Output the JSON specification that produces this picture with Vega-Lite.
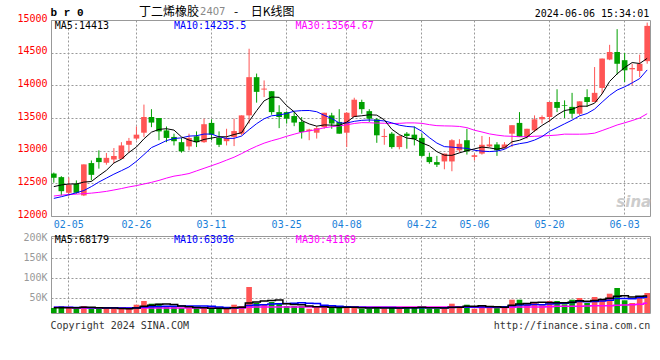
{
  "$schema": "https://vega.github.io/schema/vega-lite/v6.json",
  "background": "white",
  "padding": {"left": 16, "top": 5, "right": 6, "bottom": 4},
  "spacing": 20,
  "bounds": "flush",
  "config": {
    "view": {"stroke": "#999999", "strokeWidth": 1},
    "axis": {"labelFont": "DejaVu Sans Mono", "labelFontSize": 10, "ticks": false, "domain": false, "gridColor": "#999999", "gridDash": [2, 2], "gridWidth": 1, "labelOverlap": false, "labelFlush": false},
    "text": {"font": "DejaVu Sans Mono", "fontSize": 10, "baseline": "middle", "align": "left"}
  },
  "data": {"values": [
    {"d":"02-01","o":12650,"h":12665,"l":12510,"c":12585,"m5":12450,"m10":12270,"m30":12305,"v":24250,"v5":25000,"v10":26000,"v30":26000},
    {"d":"02-02","o":12595,"h":12610,"l":12315,"c":12380,"m5":12475,"m10":12295,"m30":12320,"v":29250,"v5":25000,"v10":26000,"v30":26000},
    {"d":"02-05","o":12355,"h":12590,"l":12305,"c":12480,"m5":12490,"m10":12325,"m30":12328,"v":24250,"v5":25000,"v10":26000,"v30":25500},
    {"d":"02-06","o":12495,"h":12545,"l":12340,"c":12355,"m5":12490,"m10":12355,"m30":12335,"v":24250,"v5":25000,"v10":25500,"v30":24300},
    {"d":"02-07","o":12315,"h":12790,"l":12305,"c":12790,"m5":12519,"m10":12390,"m30":12342,"v":29250,"v5":26250,"v10":25500,"v30":24300},
    {"d":"02-08","o":12810,"h":12850,"l":12545,"c":12630,"m5":12528,"m10":12450,"m30":12350,"v":24250,"v5":26250,"v10":25000,"v30":24300},
    {"d":"02-19","o":12890,"h":13005,"l":12725,"c":12825,"m5":12617,"m10":12520,"m30":12362,"v":22500,"v5":24900,"v10":25000,"v30":24300},
    {"d":"02-20","o":12815,"h":12965,"l":12785,"c":12890,"m5":12699,"m10":12580,"m30":12377,"v":22500,"v5":24550,"v10":24800,"v30":24300},
    {"d":"02-21","o":12865,"h":13040,"l":12810,"c":12920,"m5":12811,"m10":12640,"m30":12398,"v":22500,"v5":24200,"v10":24600,"v30":24300},
    {"d":"02-22","o":12875,"h":13130,"l":12875,"c":13080,"m5":12869,"m10":12694,"m30":12420,"v":22500,"v5":22850,"v10":24550,"v30":24300},
    {"d":"02-23","o":13090,"h":13195,"l":12970,"c":13150,"m5":12972,"m10":12750,"m30":12445,"v":22500,"v5":22500,"v10":24400,"v30":24300},
    {"d":"02-26","o":13185,"h":13370,"l":13160,"c":13245,"m5":13056,"m10":12837,"m30":12465,"v":32500,"v5":24500,"v10":24700,"v30":24300},
    {"d":"02-27","o":13275,"h":13705,"l":13210,"c":13515,"m5":13181,"m10":12940,"m30":12490,"v":41750,"v5":28350,"v10":26450,"v30":24300},
    {"d":"02-28","o":13515,"h":13635,"l":13360,"c":13430,"m5":13283,"m10":13047,"m30":12515,"v":35000,"v5":30850,"v10":27500,"v30":24300},
    {"d":"02-29","o":13500,"h":13500,"l":13160,"c":13295,"m5":13326,"m10":13098,"m30":12545,"v":35000,"v5":33350,"v10":28100,"v30":24300},
    {"d":"03-01","o":13310,"h":13370,"l":13130,"c":13195,"m5":13336,"m10":13154,"m30":12580,"v":26750,"v5":34200,"v10":28350,"v30":24300},
    {"d":"03-04","o":13210,"h":13260,"l":13080,"c":13145,"m5":13315,"m10":13186,"m30":12610,"v":26750,"v5":33050,"v10":28800,"v30":24300},
    {"d":"03-05","o":13130,"h":13195,"l":12970,"c":12990,"m5":13210,"m10":13196,"m30":12628,"v":24250,"v5":29550,"v10":28950,"v30":24300},
    {"d":"03-06","o":13065,"h":13260,"l":13005,"c":13195,"m5":13163,"m10":13223,"m30":12650,"v":24250,"v5":27400,"v10":29100,"v30":24300},
    {"d":"03-07","o":13220,"h":13295,"l":13055,"c":13130,"m5":13131,"m10":13229,"m30":12690,"v":24250,"v5":25250,"v10":29300,"v30":24300},
    {"d":"03-08","o":13130,"h":13490,"l":13120,"c":13405,"m5":13172,"m10":13254,"m30":12730,"v":24250,"v5":24750,"v10":29500,"v30":24300},
    {"d":"03-11","o":13425,"h":13480,"l":13160,"c":13245,"m5":13193,"m10":13254,"m30":12770,"v":22500,"v5":23900,"v10":28500,"v30":24300},
    {"d":"03-12","o":13195,"h":13295,"l":13055,"c":13090,"m5":13213,"m10":13212,"m30":12810,"v":22500,"v5":23550,"v10":26550,"v30":24300},
    {"d":"03-13","o":13145,"h":13335,"l":13080,"c":13195,"m5":13213,"m10":13188,"m30":12855,"v":22500,"v5":23200,"v10":25300,"v30":24300},
    {"d":"03-14","o":13210,"h":13490,"l":13070,"c":13300,"m5":13247,"m10":13189,"m30":12900,"v":32500,"v5":24850,"v10":25050,"v30":24300},
    {"d":"03-15","o":13260,"h":13540,"l":13235,"c":13540,"m5":13275,"m10":13224,"m30":12955,"v":29250,"v5":25850,"v10":25300,"v30":24300},
    {"d":"03-18","o":13540,"h":14560,"l":13415,"c":14125,"m5":13451,"m10":13322,"m30":13015,"v":76750,"v5":36700,"v10":30300,"v30":26000},
    {"d":"03-19","o":14125,"h":14180,"l":13735,"c":13900,"m5":13612,"m10":13413,"m30":13068,"v":36750,"v5":39550,"v10":31550,"v30":26500},
    {"d":"03-20","o":13935,"h":14075,"l":13820,"c":13950,"m5":13763,"m10":13488,"m30":13115,"v":33500,"v5":41750,"v10":32500,"v30":26500},
    {"d":"03-21","o":13910,"h":13910,"l":13550,"c":13590,"m5":13821,"m10":13534,"m30":13152,"v":39250,"v5":43100,"v10":34000,"v30":26500},
    {"d":"03-22","o":13590,"h":13695,"l":13345,"c":13515,"m5":13816,"m10":13545,"m30":13183,"v":35000,"v5":44250,"v10":35050,"v30":26500},
    {"d":"03-25","o":13590,"h":13600,"l":13415,"c":13490,"m5":13689,"m10":13570,"m30":13220,"v":29250,"v5":34750,"v10":35700,"v30":26500},
    {"d":"03-26","o":13530,"h":13600,"l":13375,"c":13430,"m5":13595,"m10":13604,"m30":13252,"v":29250,"v5":33250,"v10":36400,"v30":26500},
    {"d":"03-27","o":13440,"h":13515,"l":13185,"c":13285,"m5":13462,"m10":13613,"m30":13283,"v":29250,"v5":32400,"v10":37100,"v30":26500},
    {"d":"03-28","o":13300,"h":13335,"l":13160,"c":13325,"m5":13409,"m10":13615,"m30":13301,"v":22500,"v5":29050,"v10":36100,"v30":26500},
    {"d":"03-29","o":13275,"h":13375,"l":13185,"c":13345,"m5":13375,"m10":13596,"m30":13324,"v":26750,"v5":27400,"v10":35800,"v30":26500},
    {"d":"04-01","o":13360,"h":13580,"l":13335,"c":13580,"m5":13394,"m10":13541,"m30":13350,"v":29250,"v5":27400,"v10":31100,"v30":26500},
    {"d":"04-02","o":13540,"h":13580,"l":13335,"c":13415,"m5":13391,"m10":13493,"m30":13367,"v":24250,"v5":26400,"v10":29800,"v30":26500},
    {"d":"04-03","o":13440,"h":13635,"l":13260,"c":13260,"m5":13386,"m10":13424,"m30":13379,"v":24250,"v5":25400,"v10":28900,"v30":26500},
    {"d":"04-08","o":13275,"h":13590,"l":13055,"c":13580,"m5":13437,"m10":13423,"m30":13395,"v":26750,"v5":26250,"v10":27650,"v30":26500},
    {"d":"04-09","o":13515,"h":13810,"l":13515,"c":13780,"m5":13523,"m10":13449,"m30":13416,"v":26750,"v5":26250,"v10":26800,"v30":26500},
    {"d":"04-10","o":13745,"h":13780,"l":13565,"c":13635,"m5":13534,"m10":13464,"m30":13429,"v":22500,"v5":24900,"v10":26150,"v30":26500},
    {"d":"04-11","o":13605,"h":13635,"l":13440,"c":13490,"m5":13549,"m10":13470,"m30":13428,"v":22500,"v5":24550,"v10":25500,"v30":26500},
    {"d":"04-12","o":13480,"h":13500,"l":13120,"c":13235,"m5":13544,"m10":13465,"m30":13422,"v":26750,"v5":25050,"v10":25200,"v30":26500},
    {"d":"04-15","o":13210,"h":13335,"l":13090,"c":13225,"m5":13472,"m10":13455,"m30":13420,"v":22500,"v5":24200,"v10":25200,"v30":26500},
    {"d":"04-16","o":13260,"h":13285,"l":13030,"c":13055,"m5":13328,"m10":13426,"m30":13415,"v":26750,"v5":24200,"v10":25200,"v30":26500},
    {"d":"04-17","o":13055,"h":13235,"l":13020,"c":13225,"m5":13246,"m10":13390,"m30":13418,"v":22500,"v5":24200,"v10":24550,"v30":26500},
    {"d":"04-18","o":13260,"h":13285,"l":13030,"c":13225,"m5":13193,"m10":13371,"m30":13425,"v":26750,"v5":25050,"v10":24800,"v30":26500},
    {"d":"04-19","o":13245,"h":13370,"l":13080,"c":13175,"m5":13180,"m10":13362,"m30":13425,"v":26750,"v5":25050,"v10":25050,"v30":26500},
    {"d":"04-22","o":13195,"h":13260,"l":12905,"c":12920,"m5":13119,"m10":13296,"m30":13418,"v":26750,"v5":25900,"v10":25050,"v30":26500},
    {"d":"04-23","o":12905,"h":12970,"l":12800,"c":12825,"m5":13073,"m10":13200,"m30":13398,"v":22500,"v5":25050,"v10":24600,"v30":26500},
    {"d":"04-24","o":12825,"h":12920,"l":12750,"c":12785,"m5":12985,"m10":13116,"m30":13383,"v":22500,"v5":25050,"v10":24600,"v30":26500},
    {"d":"04-25","o":12835,"h":12955,"l":12715,"c":12955,"m5":12931,"m10":13062,"m30":13379,"v":22500,"v5":24200,"v10":24600,"v30":26500},
    {"d":"04-26","o":12835,"h":13175,"l":12685,"c":13160,"m5":12928,"m10":13054,"m30":13377,"v":35000,"v5":25850,"v10":25450,"v30":26500},
    {"d":"04-29","o":13005,"h":13175,"l":12970,"c":13105,"m5":12966,"m10":13043,"m30":13371,"v":29250,"v5":26350,"v10":26100,"v30":26500},
    {"d":"04-30","o":13160,"h":13335,"l":12940,"c":12990,"m5":12999,"m10":13036,"m30":13352,"v":32500,"v5":28350,"v10":26700,"v30":26500},
    {"d":"05-06","o":12905,"h":12955,"l":12850,"c":12930,"m5":13027,"m10":13006,"m30":13313,"v":22500,"v5":28350,"v10":26700,"v30":26000},
    {"d":"05-07","o":12955,"h":13225,"l":12940,"c":13090,"m5":13055,"m10":12993,"m30":13286,"v":29250,"v5":29700,"v10":26950,"v30":25500},
    {"d":"05-08","o":13065,"h":13210,"l":13055,"c":13095,"m5":13043,"m10":12986,"m30":13257,"v":26750,"v5":28050,"v10":26950,"v30":25500},
    {"d":"05-09","o":13095,"h":13130,"l":12920,"c":13005,"m5":13022,"m10":12994,"m30":13238,"v":26750,"v5":27550,"v10":26950,"v30":25500},
    {"d":"05-10","o":13040,"h":13130,"l":13030,"c":13095,"m5":13044,"m10":13021,"m30":13224,"v":26750,"v5":26400,"v10":27400,"v30":25500},
    {"d":"05-13","o":13260,"h":13390,"l":13055,"c":13390,"m5":13136,"m10":13082,"m30":13220,"v":45000,"v5":30900,"v10":29600,"v30":26000},
    {"d":"05-14","o":13425,"h":13590,"l":13210,"c":13210,"m5":13159,"m10":13107,"m30":13213,"v":45000,"v5":34050,"v10":31900,"v30":26800},
    {"d":"05-15","o":13210,"h":13335,"l":13185,"c":13335,"m5":13207,"m10":13125,"m30":13215,"v":33500,"v5":35400,"v10":31700,"v30":26800},
    {"d":"05-16","o":13310,"h":13540,"l":13285,"c":13480,"m5":13302,"m10":13162,"m30":13220,"v":39250,"v5":37900,"v10":32700,"v30":26800},
    {"d":"05-17","o":13480,"h":13540,"l":13415,"c":13515,"m5":13386,"m10":13215,"m30":13225,"v":31000,"v5":38750,"v10":32600,"v30":26800},
    {"d":"05-20","o":13515,"h":13745,"l":13440,"c":13745,"m5":13457,"m10":13296,"m30":13231,"v":41750,"v5":38100,"v10":34500,"v30":27500},
    {"d":"05-21","o":13745,"h":13940,"l":13590,"c":13655,"m5":13546,"m10":13353,"m30":13239,"v":41750,"v5":37450,"v10":35750,"v30":28400},
    {"d":"05-22","o":13695,"h":13770,"l":13500,"c":13685,"m5":13615,"m10":13411,"m30":13253,"v":33500,"v5":37450,"v10":36400,"v30":28400},
    {"d":"05-23","o":13670,"h":13885,"l":13500,"c":13565,"m5":13633,"m10":13467,"m30":13252,"v":45000,"v5":38600,"v10":38250,"v30":28400},
    {"d":"05-24","o":13565,"h":13755,"l":13540,"c":13755,"m5":13681,"m10":13533,"m30":13252,"v":49250,"v5":42250,"v10":40500,"v30":28400},
    {"d":"05-27","o":13820,"h":13940,"l":13670,"c":13745,"m5":13681,"m10":13569,"m30":13255,"v":36750,"v5":41250,"v10":39700,"v30":29000},
    {"d":"05-28","o":13745,"h":14280,"l":13745,"c":13885,"m5":13727,"m10":13636,"m30":13268,"v":51750,"v5":43250,"v10":40350,"v30":30000},
    {"d":"05-29","o":13960,"h":14410,"l":13870,"c":14410,"m5":13871,"m10":13743,"m30":13308,"v":45000,"v5":45550,"v10":41500,"v30":30000},
    {"d":"05-30","o":14395,"h":14620,"l":14385,"c":14510,"m5":14060,"m10":13846,"m30":13350,"v":60000,"v5":48550,"v10":43600,"v30":30000},
    {"d":"05-31","o":14510,"h":14860,"l":14165,"c":14330,"m5":14176,"m10":13928,"m30":13393,"v":74250,"v5":53550,"v10":47900,"v30":31000},
    {"d":"06-03","o":14385,"h":14495,"l":14050,"c":14230,"m5":14272,"m10":13977,"m30":13426,"v":43500,"v5":54900,"v10":48100,"v30":32000},
    {"d":"06-04","o":14245,"h":14330,"l":14000,"c":14265,"m5":14349,"m10":14038,"m30":13461,"v":36750,"v5":51900,"v10":47600,"v30":32500},
    {"d":"06-05","o":14220,"h":14470,"l":14125,"c":14330,"m5":14334,"m10":14103,"m30":13500,"v":54250,"v5":53750,"v10":49650,"v30":33500},
    {"d":"06-06","o":14370,"h":14960,"l":14330,"c":14910,"m5":14413,"m10":14236,"m30":13566,"v":61750,"v5":54100,"v10":51300,"v30":36000}
  ]},
  "vconcat": [
    {
      "width": 599,
      "height": 196,
      "encoding": {
        "x": {"field": "d", "type": "ordinal", "scale": {"paddingInner": 0.25, "paddingOuter": 0},
          "axis": {"title": null, "values": ["02-05","02-26","03-11","03-25","04-08","04-22","05-06","05-20","06-03"], "labelAngle": 0, "labelColor": "#1a7fd9", "labelPadding": 3, "labelOverlap": false, "grid": true, "bandPosition": 0.5}}
      },
      "layer": [
        {
          "mark": {"type": "rule", "strokeWidth": 1},
          "encoding": {
            "y": {"field": "l", "type": "quantitative", "scale": {"domain": [12000, 15000], "zero": false, "nice": false},
              "axis": {"title": null, "values": [12000,12500,13000,13500,14000,14500,15000], "tickCount": 20, "format": "d", "labelOverlap": false, "labelColor": "#ff0000", "labelPadding": 4, "labelOffset": -2, "grid": true}},
            "y2": {"field": "h"},
            "color": {"condition": {"test": "datum.c >= datum.o", "value": "#ff5555"}, "value": "#00a000"}
          }
        },
        {
          "mark": {"type": "bar"},
          "encoding": {
            "y": {"field": "o", "type": "quantitative"},
            "y2": {"field": "c"},
            "color": {"condition": {"test": "datum.c >= datum.o", "value": "#ff5555"}, "value": "#00a000"}
          }
        },
        {"mark": {"type": "line", "color": "#ff00ff", "strokeWidth": 1}, "encoding": {"y": {"field": "m30", "type": "quantitative"}}},
        {"mark": {"type": "line", "color": "#0000ff", "strokeWidth": 1}, "encoding": {"y": {"field": "m10", "type": "quantitative"}}},
        {"mark": {"type": "line", "color": "#000000", "strokeWidth": 1}, "encoding": {"y": {"field": "m5", "type": "quantitative"}}},
        {"data": {"values": [{"t": "sina"}]}, "mark": {"type": "text", "align": "right", "dx": 4, "font": "DejaVu Sans", "fontSize": 15, "fontStyle": "italic", "fontWeight": "bold", "color": "#cccccc"},
          "encoding": {"x": {"datum": "06-06"}, "y": {"datum": 12214}, "text": {"field": "t"}}},
        {"data": {"values": [{"t": "MA5:14413"}]}, "mark": {"type": "text", "dx": 1, "color": "#000000"},
          "encoding": {"x": {"datum": "02-01"}, "y": {"datum": 14913}, "text": {"field": "t"}}},
        {"data": {"values": [{"t": "MA10:14235.5"}]}, "mark": {"type": "text", "dx": 0, "color": "#0000ff"},
          "encoding": {"x": {"datum": "03-04"}, "y": {"datum": 14913}, "text": {"field": "t"}}},
        {"data": {"values": [{"t": "MA30:13564.67"}]}, "mark": {"type": "text", "dx": 1.4, "color": "#ff00ff"},
          "encoding": {"x": {"datum": "03-26"}, "y": {"datum": 14913}, "text": {"field": "t"}}},
        {"data": {"values": [{"t": "b r 0"}]}, "mark": {"type": "text", "dx": -3.3, "font": "Liberation Mono", "fontSize": 11, "fontWeight": "bold", "color": "#000000"},
          "encoding": {"x": {"datum": "02-01"}, "y": {"datum": 15110}, "text": {"field": "t"}}},
        {"data": {"values": [{"t": "丁二烯橡胶"}]}, "mark": {"type": "text", "dx": 2.5, "font": "Noto Sans CJK SC", "fontSize": 12, "color": "#000000"},
          "encoding": {"x": {"datum": "02-26"}, "y": {"datum": 15118}, "text": {"field": "t"}}},
        {"data": {"values": [{"t": "2407"}]}, "mark": {"type": "text", "dx": 3.5, "font": "DejaVu Sans", "fontSize": 10, "color": "#888888"},
          "encoding": {"x": {"datum": "03-07"}, "y": {"datum": 15118}, "text": {"field": "t"}}},
        {"data": {"values": [{"t": "-"}]}, "mark": {"type": "text", "dx": 0, "font": "Noto Sans CJK SC", "fontSize": 12, "color": "#000000"},
          "encoding": {"x": {"datum": "03-14"}, "y": {"datum": 15118}, "text": {"field": "t"}}},
        {"data": {"values": [{"t": "日K线图"}]}, "mark": {"type": "text", "dx": 1.7, "font": "Noto Sans CJK SC", "fontSize": 12, "color": "#000000"},
          "encoding": {"x": {"datum": "03-18"}, "y": {"datum": 15118}, "text": {"field": "t"}}},
        {"data": {"values": [{"t": "2024-06-06 15:34:01"}]}, "mark": {"type": "text", "align": "right", "dx": 2, "color": "#000000"},
          "encoding": {"x": {"datum": "06-06"}, "y": {"datum": 15096}, "text": {"field": "t"}}}
      ]
    },
    {
      "width": 599,
      "height": 77,
      "encoding": {
        "x": {"field": "d", "type": "ordinal", "scale": {"paddingInner": 0.25, "paddingOuter": 0},
          "axis": {"title": null, "values": ["02-05","02-26","03-11","03-25","04-08","04-22","05-06","05-20","06-03"], "labels": false, "grid": true, "bandPosition": 0.5}}
      },
      "layer": [
        {
          "mark": {"type": "bar"},
          "encoding": {
            "y": {"field": "v", "type": "quantitative", "scale": {"domain": [11750, 204250], "zero": false, "nice": false},
              "axis": {"title": null, "values": [50000, 100000, 150000, 200000], "tickCount": 20, "labelExpr": "format(datum.value / 1000, 'd') + 'K'", "labelOverlap": false, "labelColor": "#999999", "labelPadding": 4, "grid": true}},
            "y2": {"datum": 11750},
            "color": {"condition": {"test": "datum.c >= datum.o", "value": "#ff5555"}, "value": "#00a000"}
          }
        },
        {"mark": {"type": "line", "color": "#ff00ff", "strokeWidth": 1.5, "interpolate": "step"}, "encoding": {"y": {"field": "v30", "type": "quantitative"}}},
        {"mark": {"type": "line", "color": "#0000ff", "strokeWidth": 1.5, "interpolate": "step"}, "encoding": {"y": {"field": "v10", "type": "quantitative"}}},
        {"mark": {"type": "line", "color": "#000000", "strokeWidth": 1.5, "interpolate": "step"}, "encoding": {"y": {"field": "v5", "type": "quantitative"}}},
        {"data": {"values": [{"t": "MA5:68179"}]}, "mark": {"type": "text", "dx": 1, "color": "#000000"},
          "encoding": {"x": {"datum": "02-01"}, "y": {"datum": 193500}, "text": {"field": "t"}}},
        {"data": {"values": [{"t": "MA10:63036"}]}, "mark": {"type": "text", "dx": 0, "color": "#0000ff"},
          "encoding": {"x": {"datum": "03-04"}, "y": {"datum": 193500}, "text": {"field": "t"}}},
        {"data": {"values": [{"t": "MA30:41169"}]}, "mark": {"type": "text", "dx": 1.7, "color": "#ff00ff"},
          "encoding": {"x": {"datum": "03-26"}, "y": {"datum": 193500}, "text": {"field": "t"}}},
        {"data": {"values": [{"t": "Copyright 2024 SINA.COM"}]}, "mark": {"type": "text", "dx": -3.3, "color": "#333333"},
          "encoding": {"x": {"datum": "02-01"}, "y": {"datum": -20750}, "text": {"field": "t"}}},
        {"data": {"values": [{"t": "http://finance.sina.com.cn"}]}, "mark": {"type": "text", "align": "right", "dx": 3.2, "color": "#333333"},
          "encoding": {"x": {"datum": "06-06"}, "y": {"datum": -20750}, "text": {"field": "t"}}}
      ]
    }
  ]
}
